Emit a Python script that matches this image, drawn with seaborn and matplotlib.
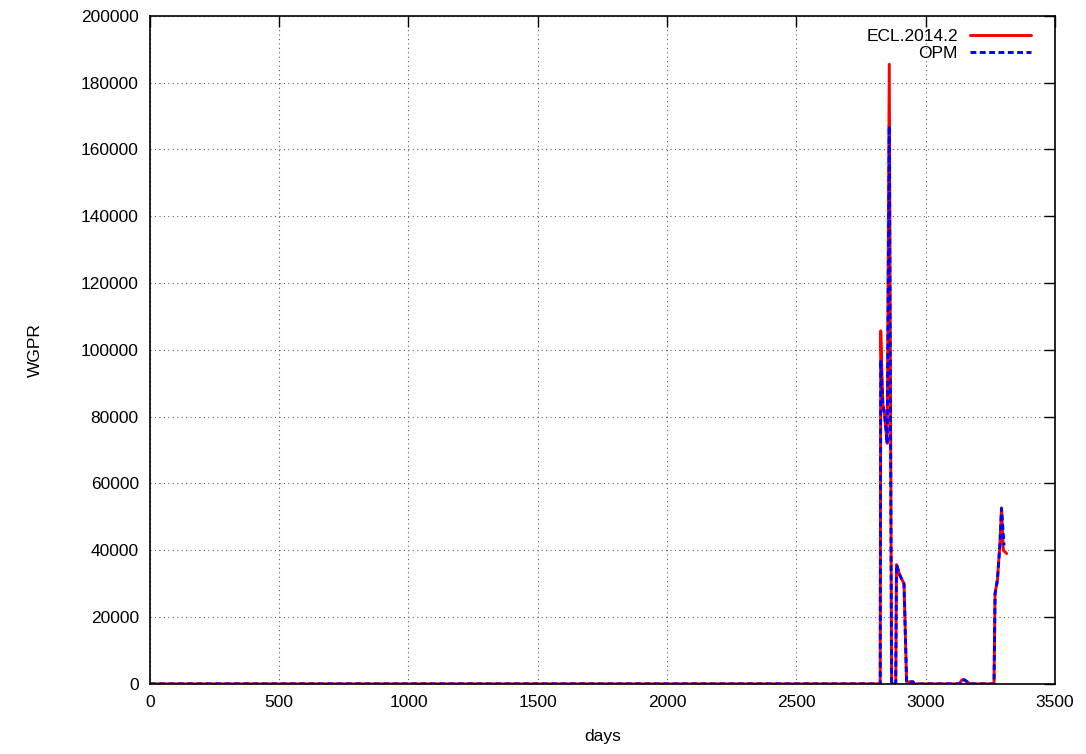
import pandas as pd
import seaborn as sns
import matplotlib
matplotlib.use("Agg")
import matplotlib.pyplot as plt

# values
days_ecl = [0, 2824, 2826, 2834, 2841, 2851, 2859, 2868, 2884, 2887, 2900, 2916,
            2926, 2951, 2955, 3130, 3140, 3150, 3171, 3264, 3268, 3277, 3287,
            3293, 3300, 3313]
wgpr_ecl = [0, 0, 105700, 84000, 80500, 72000, 185500, 0, 0, 35700, 32500, 30000,
            600, 600, 0, 0, 1200, 1200, 0, 0, 27000, 31000, 42000,
            52700, 40000, 39000]

days_opm = [0, 2824, 2826, 2834, 2841, 2851, 2859, 2868, 2884, 2887, 2900, 2916,
            2926, 2951, 2955, 3130, 3140, 3150, 3171, 3264, 3268, 3277, 3287,
            3293, 3303]
wgpr_opm = [0, 0, 97000, 84000, 80500, 72000, 167000, 0, 0, 35700, 32500, 30000,
            600, 600, 0, 0, 1200, 1200, 0, 0, 27000, 31000, 42000,
            52500, 41500]

x_ticks = [0, 500, 1000, 1500, 2000, 2500, 3000, 3500]
y_ticks = [0, 20000, 40000, 60000, 80000, 100000, 120000, 140000, 160000, 180000, 200000]

sns.set_style("white")
plt.rcParams["font.family"] = ["Liberation Sans", "DejaVu Sans"]
plt.rcParams["text.color"] = "black"

df_ecl = pd.DataFrame({"days": days_ecl, "WGPR": wgpr_ecl})
df_opm = pd.DataFrame({"days": days_opm, "WGPR": wgpr_opm})

fig = plt.figure(figsize=(10.86, 7.54), dpi=100)
ax = fig.add_axes([0.138, 0.093, 0.8335, 0.886])

opm_dash = [2.0, 1.2]
sns.lineplot(data=df_ecl, x="days", y="WGPR", ax=ax, color="#ff0000",
             linewidth=2.1, label="ECL.2014.2", sort=False)
sns.lineplot(data=df_opm, x="days", y="WGPR", ax=ax, color="#0000ff",
             linewidth=2.1, label="OPM", sort=False)
ax.lines[1].set_dashes(opm_dash)

ax.set_xlim(0, 3500)
ax.set_ylim(0, 200000)
ax.set_xticks(x_ticks)
ax.set_yticks(y_ticks)
ax.set_xticklabels([str(t) for t in x_ticks])
ax.set_yticklabels([str(t) for t in y_ticks])
ax.tick_params(direction="in", length=8, width=1, top=True, right=True,
               labelsize=12.5, colors="black", pad=8)
ax.grid(True, color="#606060", linestyle=(0, (1, 3)), linewidth=0.8)
for sp in ax.spines.values():
    sp.set_color("black")
    sp.set_linewidth(1.2)

ax.set_xlabel("days", fontsize=12.5, labelpad=14, color="black")
ax.set_ylabel("WGPR", fontsize=12.5, labelpad=27, color="black")

leg = ax.legend(loc="upper right", bbox_to_anchor=(0.981, 0.991),
                frameon=False, markerfirst=False, fontsize=12.5,
                handlelength=3.5, handletextpad=0.7,
                labelspacing=0.1, borderaxespad=0)
leg.get_lines()[1].set_dashes(opm_dash)

fig.savefig("out.png", dpi=100)
